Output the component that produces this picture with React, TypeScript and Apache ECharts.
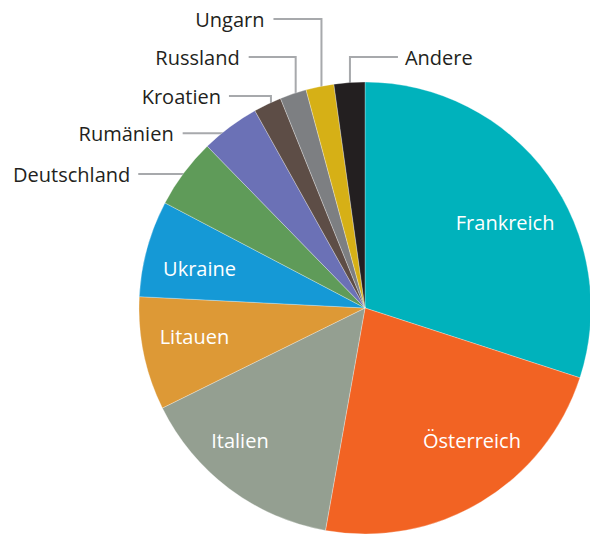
import React, { useEffect, useRef } from 'react';
import * as echarts from 'echarts';

const countries = ['Frankreich', 'Österreich', 'Italien', 'Litauen', 'Ukraine', 'Deutschland', 'Rumänien', 'Kroatien', 'Russland', 'Ungarn', 'Andere'];
const shares = [30.0, 22.8, 14.9, 8.1, 6.9, 5.0, 4.2, 2.0, 1.9, 2.0, 2.2];
const colors = ['#00b2bc', '#f26323', '#949f91', '#dd9936', '#1599d6', '#5f9b59', '#6b71b6', '#5d4d46', '#7d7f82', '#d6b016', '#231f20'];

// layout (not data)
const CX = 365;
const CY = 308;
const R = 226;
const FONT = '"Open Sans", "Noto Sans", sans-serif';
// inside label anchors: [angle clockwise from top (deg), distance from centre (px)]
const insideLabels: Record<string, [number, number]> = {
  Frankreich: [58.7, 164],
  'Österreich': [141, 170],
  Italien: [223.4, 182],
  Litauen: [260.4, 173],
  Ukraine: [283.3, 170],
};
// outside labels: kind h = horizontal leader, v = vertical then horizontal
const outsideLabels: Record<string, { kind: 'h' | 'v'; dir: -1 | 1; y?: number; len: number; gap: number }> = {
  Deutschland: { kind: 'h', dir: -1, y: 174, len: 52, gap: 8 },
  'Rumänien': { kind: 'h', dir: -1, len: 52, gap: 9 },
  Kroatien: { kind: 'v', dir: -1, y: 96, len: 42, gap: 8 },
  Russland: { kind: 'v', dir: -1, y: 57, len: 47, gap: 9 },
  Ungarn: { kind: 'v', dir: -1, y: 19, len: 48, gap: 9 },
  Andere: { kind: 'v', dir: 1, y: 57, len: 48, gap: 7 },
};

export default function App() {
  const ref = useRef<HTMLDivElement>(null);
  useEffect(() => {
    document.body.style.margin = '0';
    if (!ref.current) return;
    const chart = echarts.init(ref.current, undefined, { renderer: 'svg' });
    const total = shares.reduce((a, b) => a + b, 0);
    const mids: number[] = [];
    let acc = 0;
    shares.forEach((v) => {
      mids.push(((acc + v / 2) / total) * 360);
      acc += v;
    });

    const data = countries.map((name, i) => {
      const inside = insideLabels[name] != null;
      return {
        name,
        value: shares[i],
        itemStyle: { color: colors[i] },
        label: inside
          ? { show: true, position: 'inside', color: '#ffffff', fontSize: 20, fontFamily: FONT }
          : { show: true, position: 'outside', color: '#231f20', fontSize: 20, fontFamily: FONT },
        labelLine: inside
          ? { show: false }
          : { show: true, lineStyle: { color: '#a7a9ac', width: 2 }, smooth: false },
      };
    });

    chart.setOption({
      animation: false,
      backgroundColor: '#ffffff',
      series: [
        {
          type: 'pie',
          center: [CX, CY],
          radius: [0, R],
          startAngle: 90,
          clockwise: true,
          avoidLabelOverlap: false,
          itemStyle: { borderColor: '#ffffff', borderWidth: 0.3 },
          data,
          labelLayout: (params: any) => {
            const name = countries[params.dataIndex];
            if (insideLabels[name]) {
              const [a, d] = insideLabels[name];
              const rad = (a * Math.PI) / 180;
              return {
                x: CX + d * Math.sin(rad),
                y: CY - d * Math.cos(rad),
                align: 'center',
                verticalAlign: 'middle',
              };
            }
            const o = outsideLabels[name];
            if (!o) return {};
            const rad = (mids[params.dataIndex] * Math.PI) / 180;
            const ex = CX + (R - 8) * Math.sin(rad);
            let ey = CY - (R - 8) * Math.cos(rad);
            if (o.kind === 'h') {
              if (o.y != null) ey = o.y;
              const x2 = ex + o.dir * o.len;
              return {
                x: x2 + o.dir * o.gap,
                y: ey,
                align: o.dir < 0 ? 'right' : 'left',
                verticalAlign: 'middle',
                labelLinePoints: [[ex + 4, ey], [x2, ey]],
              };
            }
            const ly = o.y as number;
            const x2 = ex + o.dir * o.len;
            return {
              x: x2 + o.dir * o.gap,
              y: ly,
              align: o.dir < 0 ? 'right' : 'left',
              verticalAlign: 'middle',
              labelLinePoints: [[ex, ey], [ex, ly], [x2, ly]],
            };
          },
        },
      ],
    });
    return () => chart.dispose();
  }, []);
  return <div ref={ref} style={{ width: 590, height: 535 }} />;
}
